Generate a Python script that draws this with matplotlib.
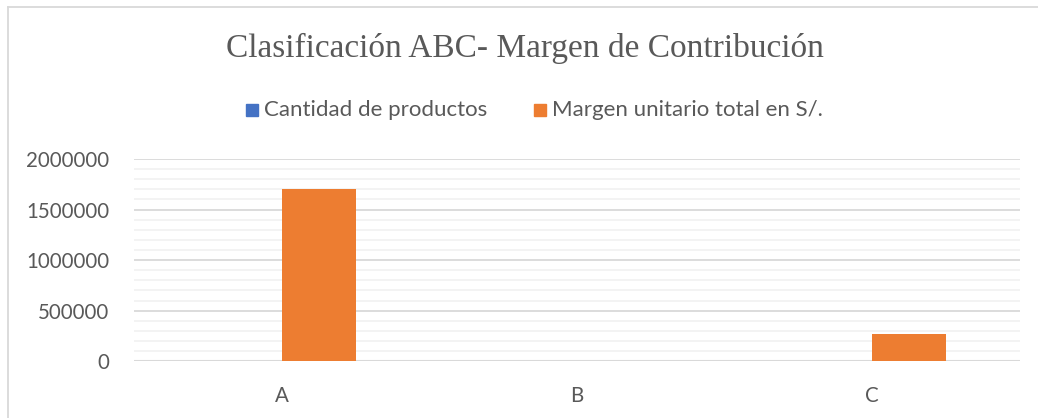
import matplotlib
matplotlib.use("Agg")
import matplotlib.pyplot as plt
import numpy as np
from matplotlib.lines import Line2D
from matplotlib.patches import Rectangle

categories = ["A", "B", "C"]
cantidad_productos = [150, 200, 3000]
margen_unitario_total = [1706000, 4000, 270000]
series_names = ["Cantidad de productos", "Margen unitario total en S/."]
yticks = [0, 500000, 1000000, 1500000, 2000000]
title = "Clasificación ABC- Margen de Contribución"

blue = "#4472C4"
orange = "#ED7D31"
txt = "#595959"
sans = ["Lato", "DejaVu Sans"]

fig = plt.figure(figsize=(10.38, 4.18), dpi=100)
ax = fig.add_axes([134.5 / 1038, 1 - 361.3 / 418, 885 / 1038, (361.3 - 159) / 418])

x = np.arange(len(categories))
w = 0.25
ax.bar(x - w / 2, cantidad_productos, w, color=blue, zorder=3)
ax.bar(x + w / 2, margen_unitario_total, w, color=orange, zorder=3)

ax.set_xlim(-0.5, len(categories) - 0.5)
ax.set_ylim(0, 2000000)
ax.set_yticks(yticks)
ax.set_yticklabels([str(v) for v in yticks], fontsize=14.8, color=txt, family=sans)
ax.set_yticks(np.arange(0, 2000001, 100000), minor=True)
ax.set_xticks(x)
ax.set_xticklabels(categories, fontsize=14.8, color=txt, family=sans)
ax.tick_params(axis="both", which="both", length=0)
ax.tick_params(axis="y", pad=18)
ax.tick_params(axis="x", pad=18)
ax.grid(axis="y", which="minor", color="#f2f2f2", linewidth=1.3, zorder=0)
ax.grid(axis="y", which="major", color="#d9d9d9", linewidth=1.3, zorder=1)
for s in ax.spines.values():
    s.set_visible(False)
ax.axhline(0, color="#d9d9d9", linewidth=1.5, zorder=2)

fig.text(525 / 1038, 1 - 48 / 418, title, ha="center", va="center",
         fontsize=24, color=txt, family=["Liberation Serif", "DejaVu Serif"])

# legend
ly = 1 - 110 / 418
sq = 12
for px, col, name in [(246, blue, series_names[0]), (534, orange, series_names[1])]:
    fig.patches.append(Rectangle((px / 1038, ly - (sq / 2) / 418), sq / 1038, sq / 418,
                                 transform=fig.transFigure, color=col, figure=fig))
    fig.text((px + sq + 6) / 1038, ly, name, ha="left", va="center",
             fontsize=16, color=txt, family=sans)

# chart border
fig.add_artist(Line2D([8 / 1038, 8 / 1038], [0, 1 - 7 / 418], transform=fig.transFigure,
                      color="#d9d9d9", linewidth=1.3))
fig.add_artist(Line2D([8 / 1038, 1], [1 - 7 / 418, 1 - 7 / 418], transform=fig.transFigure,
                      color="#d9d9d9", linewidth=1.3))

fig.savefig("out.png", dpi=100, facecolor="white")
